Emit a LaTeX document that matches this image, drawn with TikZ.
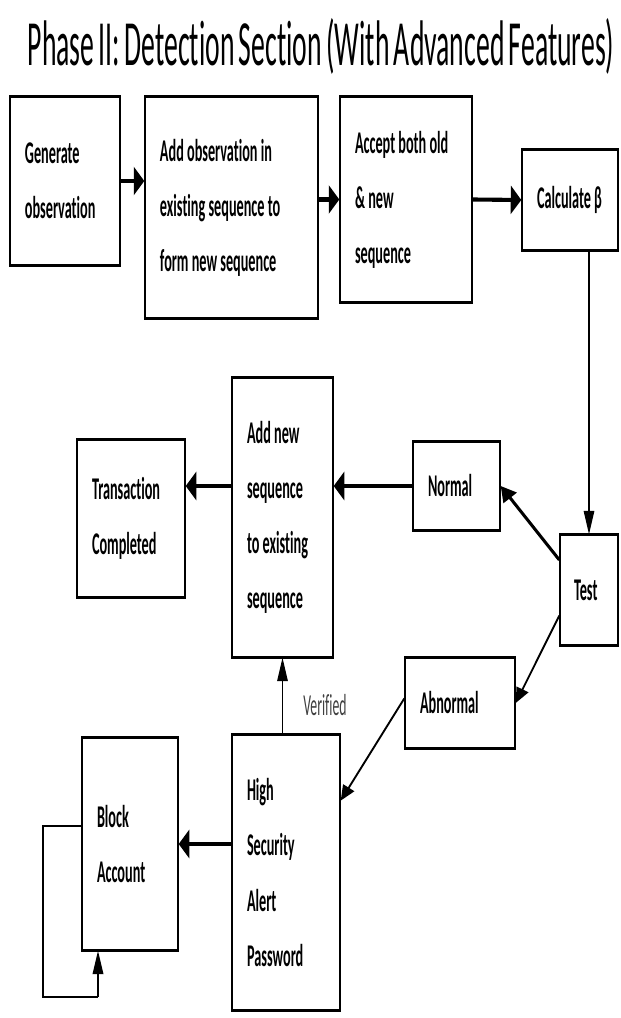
\documentclass[tikz,border=0pt]{standalone}
\usepackage{fontspec}
\setmainfont{Carlito}
\newfontfamily\narrowfont[FakeStretch=0.45,Ligatures=NoCommon]{Carlito}
\newfontfamily\titlefont[FakeStretch=0.43,WordSpace=0.7,Ligatures=NoCommon]{Carlito}
\usetikzlibrary{arrows.meta,calc}

\begin{document}
\begin{tikzpicture}[x=0.03cm,y=-0.03cm,
  blk/.style={draw,line width=1.2pt,align=flush left,inner ysep=0pt,inner xsep=0.45cm,
    font=\narrowfont\bfseries\fontsize{27}{47}\selectfont},
  hz/.style={-{Triangle[length=9pt,width=24pt]},line width=3.5pt},
  vt/.style={-{Triangle[length=20pt,width=9pt]},line width=1pt},
  dg/.style={-{Triangle[length=13pt,width=14pt]},line width=2.6pt}]
  \useasboundingbox (0,0) rectangle (620,1018);
  \node[font=\titlefont\fontsize{55}{60}\selectfont] (title) at (321,46) {Phase II: Detection Section (With Advanced Features)};
  % top row
  \node[blk,text width=2.4cm,minimum height=5.04cm] (gen) at (65,181) {Generate\\observation};
  \node[blk,text width=4.29cm,minimum height=6.63cm] (addobs) at (231.5,207.5) {Add observation in\\existing sequence to\\form new sequence};
  \node[blk,text width=3.06cm,minimum height=6.15cm] (accept) at (406,199.5) {Accept both old\\\& new\\sequence};
  \node[blk,text width=1.98cm,minimum height=3cm] (calc) at (570,200) {Calculate β};
  % test and outcomes
  \node[blk,text width=0.9cm,inner xsep=0.42cm,minimum height=3.3cm] (test) at (589,590) {Test};
  \node[blk,text width=1.71cm,minimum height=2.64cm] (normal) at (456.5,486) {Normal};
  \node[blk,text width=2.4cm,minimum height=2.7cm] (abnormal) at (460,703) {Abnormal};
  \node[blk,text width=2.13cm,minimum height=8.37cm] (addnew) at (282.5,517.5) {Add new\\sequence\\to existing\\sequence};
  \node[blk,text width=2.34cm,minimum height=4.71cm] (trans) at (131,518.5) {Transaction\\Completed};
  \node[blk,text width=2.34cm,minimum height=8.25cm] (alert) at (286,872.5) {High\\Security\\Alert\\Password};
  \node[blk,text width=1.98cm,minimum height=6.36cm] (block) at (130,844) {Block\\Account};
  % heavier top and bottom edges
  \foreach \n in {gen,addobs,accept,calc,test,normal,abnormal,addnew,trans,alert,block} {
    \draw[line width=3pt] (\n.north west) -- (\n.north east);
    \draw[line width=3pt] (\n.south west) -- (\n.south east);
  }
  % connectors
  \draw[hz] (gen.east) -- (gen.east -| addobs.west);
  \draw[hz] (accept.west -| addobs.east) -- (accept.west);
  \draw[hz] (accept.east) -- (calc.west);
  \draw[vt] (calc.south -| test.north) -- (test.north);
  \draw[dg] ($(test.north west)!0.23!(test.south west)$) -- (normal.east);
  \draw[-{Triangle[length=13pt,width=11pt]},line width=1.6pt] ($(test.north west)!0.73!(test.south west)$) -- (abnormal.east);
  \draw[hz] (normal.west) -- (normal.west -| addnew.east);
  \draw[hz] (normal.west -| addnew.west) -- (normal.west -| trans.east);
  \draw[-{Triangle[length=13pt,width=11pt]},line width=1.6pt] ($(abnormal.north west)!0.45!(abnormal.south west)$) -- ($(alert.north east)!0.24!(alert.south east)$);
  \draw[vt] (addnew.south |- alert.north) -- (addnew.south) node[pos=0.38,right=14pt,text=black!75,font=\narrowfont\fontsize{26}{28}\selectfont] {Verified};
  \draw[hz] (block.east -| alert.west) -- (block.east);
  \coordinate (loopa) at (43,997);
  \coordinate (loopb) at (98,997);
  \draw[line width=1.5pt] ($(block.north west)!0.415!(block.south west)$) -| (loopa) -- (loopb);
  \draw[vt,line width=1.5pt] (loopb) -- (loopb |- block.south);
\end{tikzpicture}
\end{document}
